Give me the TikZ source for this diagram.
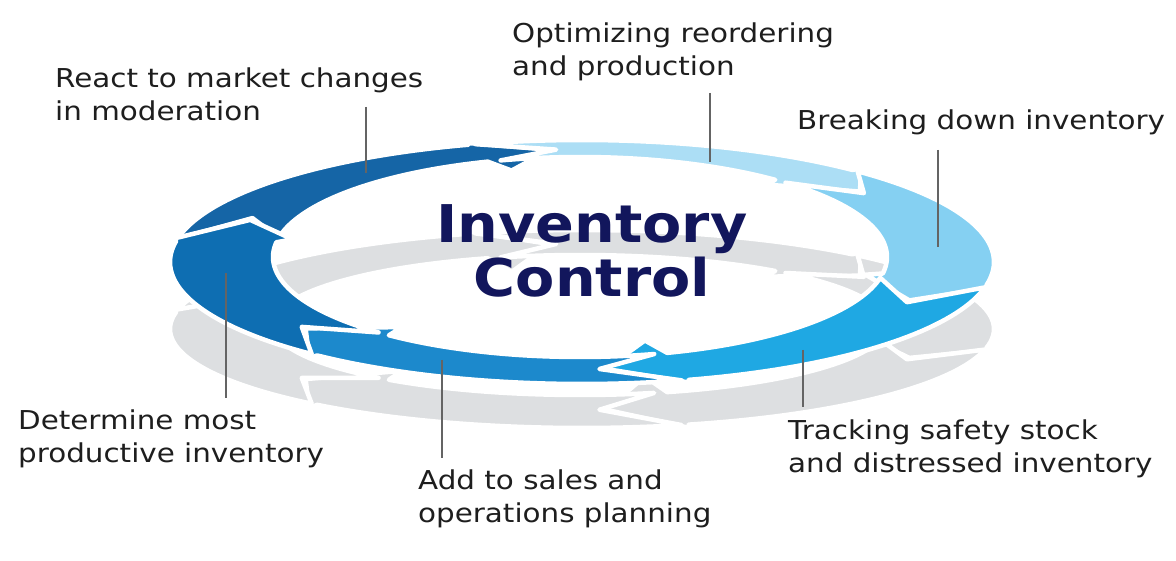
\documentclass[tikz,border=0pt]{standalone}
\usepackage{fontspec}
\setmainfont{DejaVu Sans}
\newfontfamily\lblfont{DejaVu Sans}[FakeStretch=1.13]
\newfontfamily\ttlfont{DejaVu Sans}[FakeStretch=1.10]
\definecolor{arA}{RGB}{21,101,166}
\definecolor{arB}{RGB}{172,222,245}
\definecolor{arC}{RGB}{133,208,242}
\definecolor{arD}{RGB}{31,168,227}
\definecolor{arE}{RGB}{28,137,204}
\definecolor{arF}{RGB}{14,110,178}
\definecolor{shadowgrey}{RGB}{221,223,225}
\definecolor{navy}{RGB}{18,22,92}
\definecolor{labeltext}{RGB}{30,30,30}
\definecolor{leadergrey}{RGB}{100,100,100}
% ring geometry (set per ring)
\newcommand\setring[8]{\def\Icx{#1}\def\Icy{#2}\def\Irx{#3}\def\Iry{#4}\def\Ocx{#5}\def\Ocy{#6}\def\Orx{#7}\def\Ory{#8}}
\def\hd{11}\def\eo{0.12}\def\st{0.45}
% #1 tail angle, #2 head angle, #3 colour, #4 inner barb
\newcommand\ringarrow[4]{%
  \pgfmathsetmacro\hb{#2-\hd}%
  \pgfmathsetmacro\hc{#2-\hd-1.5}%
  \pgfmathsetmacro\nt{#1+\hd}%
  \path[seg,fill=#3]
    plot[variable=\ang,domain=#1:\hb,samples=40] ({ringx(\ang,1)},{ringy(\ang,1)})
    -- ({ringx(\hb,1+\eo)},{ringy(\hb,1+\eo)})
    -- ({ringx(#2,\st)},{ringy(#2,\st)})
    -- ({ringx(\hb,-#4)},{ringy(\hb,-#4)})
    -- ({ringx(\hc,0)},{ringy(\hc,0)})
    -- plot[variable=\uu,domain=0:1,samples=40] ({ringx(\hc+(#1-\hc)*\uu,0)},{ringy(\hc+(#1-\hc)*\uu,0)})
    -- ({ringx(\nt,\st)},{ringy(\nt,\st)}) -- cycle;
}
\newcommand\fullring[6]{%
  \ringarrow{191}{265}{#1}{0.6}%
  \ringarrow{255}{322}{#2}{0.25}%
  \ringarrow{312}{382}{#3}{0.15}%
  \ringarrow{12}{86}{#4}{0.5}%
  \ringarrow{76}{141}{#5}{0.3}%
  \ringarrow{131}{201}{#6}{0.15}%
}
\begin{document}
\begin{tikzpicture}[x=1pt,y=-1pt,
  declare function={
    ringx(\ang,\rr)=(1-\rr)*(\Icx+\Irx*cos(\ang))+\rr*(\Ocx+\Orx*cos(\ang));
    ringy(\ang,\rr)=(1-\rr)*(\Icy+\Iry*sin(\ang))+\rr*(\Ocy+\Ory*sin(\ang));
  },
  seg/.style={draw=white,line width=4.5pt,line join=round},
  lbl/.style={anchor=north west,inner sep=0pt,align=left,text=labeltext,
    font=\lblfont\fontsize{26}{33}\selectfont},
  ttl/.style={inner sep=0pt,align=center,text=navy,
    font=\ttlfont\bfseries\fontsize{52}{54}\selectfont},
  leader/.style={draw=leadergrey,line width=1.8pt}]
\useasboundingbox[fill=white] (0,0) rectangle (1176,561);
% shadow ring
\setring{580}{325}{307}{70}{582}{329}{412}{99}
\fullring{shadowgrey}{shadowgrey}{shadowgrey}{shadowgrey}{shadowgrey}{shadowgrey}
% blue ring
\setring{580}{257}{307}{100}{582}{262}{412}{122}
\fullring{arA}{arB}{arC}{arD}{arE}{arF}
% title
\node[ttl] (title) at (592,251) {Inventory\\Control};
% labels
\node[lbl] (lab1) at (55,68) {React to market changes\\in moderation};
\node[lbl] (lab2) at (512,23) {Optimizing reordering\\and production};
\node[lbl] (lab3) at (797,110) {Breaking down inventory};
\node[lbl] (lab4) at (18,410) {Determine most\\productive inventory};
\node[lbl] (lab5) at (418,470) {Add to sales and\\operations planning};
\node[lbl] (lab6) at (788,420) {Tracking safety stock\\and distressed inventory};
% leader lines
\coordinate (p1a) at (366,107); \coordinate (p1b) at (366,173);
\coordinate (p2a) at (710,93);  \coordinate (p2b) at (710,162);
\coordinate (p3a) at (938,150); \coordinate (p3b) at (938,247);
\coordinate (p4a) at (226,273); \coordinate (p4b) at (226,398);
\coordinate (p5a) at (442,360); \coordinate (p5b) at (442,458);
\coordinate (p6a) at (803,350); \coordinate (p6b) at (803,407);
\draw[leader] (p1a) -- (p1b);
\draw[leader] (p2a) -- (p2b);
\draw[leader] (p3a) -- (p3b);
\draw[leader] (p4a) -- (p4b);
\draw[leader] (p5a) -- (p5b);
\draw[leader] (p6a) -- (p6b);
\end{tikzpicture}
\end{document}
